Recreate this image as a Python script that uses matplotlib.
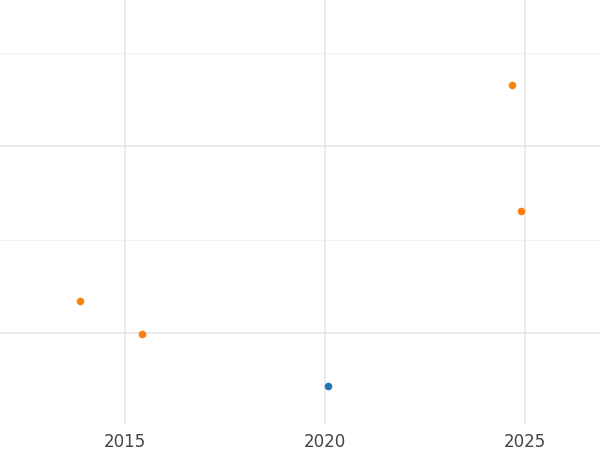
import matplotlib.pyplot as plt
from matplotlib.ticker import MultipleLocator

orange_x = [2013.875, 2015.425, 2024.675, 2024.9]
orange_y = [0.171, -0.005, 1.326, 0.652]
blue_x = [2020.075]
blue_y = [-0.283]

fig = plt.figure(figsize=(6, 4.5), dpi=100)
ax = fig.add_axes([0, 425 / 450 * 0 + 25 / 450, 1, 425 / 450])
ax.scatter(orange_x, orange_y, color='#ff7f0e', s=30, zorder=3, linewidths=0)
ax.scatter(blue_x, blue_y, color='#1f77b4', s=30, zorder=3, linewidths=0)

ax.set_xlim(2011.875, 2026.875)
ax.set_ylim(-0.492, 1.781)
ax.xaxis.set_major_locator(MultipleLocator(5))
ax.yaxis.set_major_locator(MultipleLocator(1))
ax.yaxis.set_minor_locator(MultipleLocator(0.5))
ax.grid(True, which='major', color='#e6e6e6', lw=1.2)
ax.grid(True, which='minor', axis='y', color='#f0f0f0', lw=0.8)
ax.set_axisbelow(True)
ax.tick_params(axis='y', which='both', left=False, labelleft=False)
ax.tick_params(axis='x', length=0, labelsize=12, labelcolor='#444444', pad=6)
for s in ax.spines.values():
    s.set_visible(False)

fig.savefig('out.png')
